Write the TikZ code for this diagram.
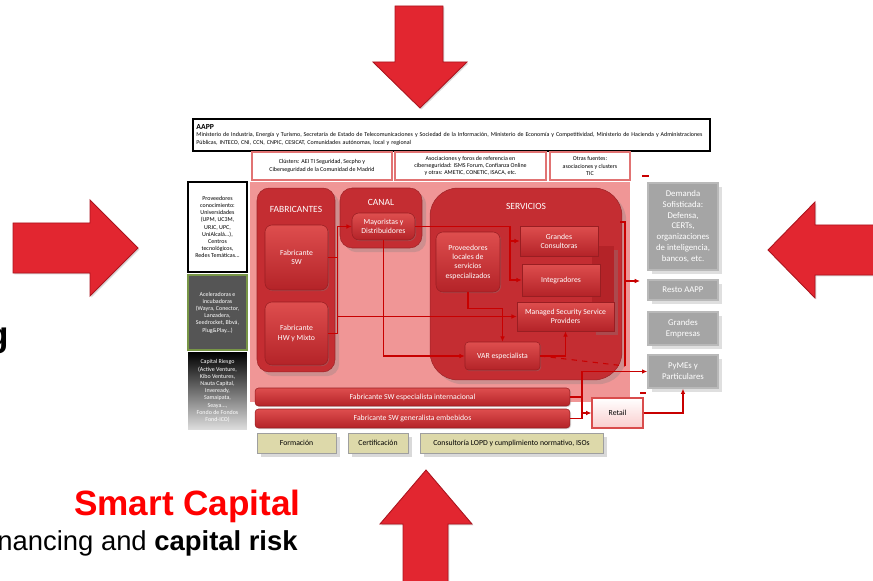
\documentclass[tikz,border=0pt]{standalone}
\usepackage{fontspec}
\setmainfont{Carlito}
\newfontfamily\arialfont{Liberation Sans}
\usetikzlibrary{arrows.meta, positioning, shadows}

\definecolor{arrowred}{RGB}{226,38,48}
\definecolor{arrowdark}{RGB}{170,20,30}
\definecolor{pinkarea}{RGB}{240,150,150}
\definecolor{groupred}{RGB}{196,45,50}
\definecolor{boxtop}{RGB}{222,78,78}
\definecolor{boxbot}{RGB}{180,35,40}
\definecolor{linered}{RGB}{200,0,0}
\definecolor{grayfill}{RGB}{165,165,165}
\definecolor{tanfill}{RGB}{221,217,170}
\definecolor{smartred}{RGB}{255,0,0}
\definecolor{accgray}{RGB}{85,85,85}
\definecolor{accgreen}{RGB}{120,150,70}
\definecolor{retailpink}{RGB}{250,205,205}

\newcommand{\dgtiny}{\fontsize{3.4}{4.1}\selectfont}
\newcommand{\dgsmall}{\fontsize{4.4}{5.3}\selectfont}
\newcommand{\dgmid}{\fontsize{5}{6.2}\selectfont}
\newcommand{\dgtitle}{\fontsize{5.4}{6.5}\selectfont}

\begin{document}
\begin{tikzpicture}[x=0.02cm, y=-0.02cm, >={Latex[length=3pt,width=2.6pt]},
    bigarrow/.style={fill=arrowred, draw=arrowdark, line width=0.5pt, drop shadow={opacity=0.3, shadow xshift=0.8pt, shadow yshift=-0.8pt}},
    zonefill/.style={fill=pinkarea, inner sep=0pt},
    aappbox/.style={draw=black, line width=1pt, fill=white, font=\dgtiny, align=left, inner sep=2pt},
    topbox/.style={draw=linered!55, line width=0.8pt, fill=white, font=\dgtiny, align=center, inner sep=1pt},
    gblock/.style={rounded corners=7pt, fill=groupred, draw=groupred!80!black, line width=0.3pt, drop shadow={opacity=0.3}},
    grptitle/.style={font=\dgtitle, text=white, inner sep=0pt},
    inbox/.style={rounded corners=4pt, top color=boxtop, bottom color=boxbot, draw=boxbot!85!black, line width=0.3pt, text=white, font=\dgsmall, align=center, inner sep=1pt, drop shadow={opacity=0.35, shadow xshift=0.6pt, shadow yshift=-0.6pt}},
    sqbox/.style={inbox, rounded corners=0pt},
    hbar/.style={inbox, rounded corners=2pt},
    leftbox/.style={font=\dgtiny, align=center, inner sep=1pt},
    graybox/.style={fill=grayfill, draw=gray!55, line width=0.8pt, text=white, font=\dgmid, align=center, inner sep=1pt, drop shadow={opacity=0.25}},
    tanbox/.style={fill=tanfill, draw=gray!75, line width=0.4pt, font=\dgsmall, inner sep=1pt, drop shadow={opacity=0.3}},
    link/.style={->, draw=linered, line width=0.6pt},
    wire/.style={draw=linered, line width=0.6pt},
]
\useasboundingbox (0,0) rectangle (873,581);
\clip (0,0) rectangle (873,581);
% big arrows round the diagram
\path[bigarrow] (395,6) -- (443,6) -- (443,62) -- (467,62) -- (420,108) -- (373,62) -- (395,62) -- cycle;
\path[bigarrow] (13,223) -- (90,223) -- (90,200) -- (138,248) -- (90,296) -- (90,273) -- (13,273) -- cycle;
\path[bigarrow] (885,225) -- (815,225) -- (815,202) -- (768,250) -- (815,298) -- (815,275) -- (885,275) -- cycle;
\path[bigarrow] (403,590) -- (403,524) -- (380,524) -- (426,470) -- (472,524) -- (448,524) -- (448,590) -- cycle;
% titles
\node[anchor=base east, inner sep=0pt, font=\arialfont\bfseries\fontsize{20}{24}\selectfont] (gword) at (9,346) {g};
\node[anchor=base east, inner sep=0pt, text=smartred, font=\arialfont\bfseries\fontsize{20}{24}\selectfont] (smart) at (301,515) {Smart Capital};
\node[anchor=base east, inner sep=0pt, font=\arialfont\fontsize{15.6}{18}\selectfont] (finance) at (298,550) {nancing and \textbf{capital risk}};
% AAPP and top row
\node[aappbox, anchor=north west, text width=10.2cm, minimum height=0.64cm] (aapp) at (192,118) {{\dgsmall\bfseries AAPP}\\ Ministerio de Industria, Energía y Turismo, Secretaría de Estado de Telecomunicaciones y Sociedad de la Información, Ministerio de Economía y Competitividad, Ministerio de Hacienda y Administraciones Públicas, INTECO, CNI, CCN, CNPIC, CESICAT, Comunidades autónomas, local y regional};
\node[topbox, minimum width=2.8cm, minimum height=0.56cm] (clus) at (322,166) {Clústers: AEI TI Seguridad, Secpho y\\Ciberseguridad de la Comunidad de Madrid};
\node[topbox, minimum width=3.02cm, minimum height=0.56cm] (asoc) at (470.5,166) {Asociaciones y foros de referencia en\\ciberseguridad: ISMS Forum, Confianza Online\\y otras: AMETIC, CONETIC, ISACA, etc.};
\node[topbox, minimum width=1.6cm, minimum height=0.56cm] (otras) at (590,166) {Otras fuentes:\\asociaciones y clusters\\TIC};
% left column
\node[leftbox, draw=black, line width=1.2pt, fill=white, minimum width=1.18cm, minimum height=1.8cm] (conoc) at (217.5,227) {Proveedores\\conocimiento:\\Universidades\\(UPM, UC3M,\\URJC, UPC,\\UniAlcalá...),\\Centros\\tecnológicos,\\Redes Temáticas...};
\node[leftbox, fill=accgray, draw=accgreen, line width=1pt, text=white, minimum width=1.18cm, minimum height=1.5cm] (acel) at (217.5,312.5) {Aceleradoras e\\incubadoras\\(Wayra, Conector,\\Lanzadera,\\Seedrocket, Bbvá,\\Plug\&Play...)};
\node[leftbox, top color=black, bottom color=gray!25, text=white, minimum width=1.18cm, minimum height=1.56cm] (riesgo) at (217.5,391) {Capital Riesgo\\(Active Venture,\\Kibo Ventures,\\Nauta Capital,\\Inveready,\\Samaipata,\\Seaya...,\\Fondo de Fondos\\Fond-ICO)};
% central zone
\node[zonefill, minimum width=7.6cm, minimum height=4.4cm] (zone) at (440,292) {};
\node[gblock, minimum width=1.56cm, minimum height=3.68cm] (fab) at (296,280) {};
\node[grptitle, below=0.36cm of fab.north] (fabt) {FABRICANTES};
\node[inbox, minimum width=1.26cm, minimum height=1.3cm] (fabsw) at (296.5,257.5) {Fabricante\\SW};
\node[inbox, minimum width=1.26cm, minimum height=1.26cm] (fabhw) at (296.5,333.5) {Fabricante\\HW y Mixto};
\node[gblock, minimum width=1.64cm, minimum height=1.2cm] (canal) at (381,218) {};
\node[grptitle, below=0.22cm of canal.north] (canalt) {CANAL};
\node[inbox, minimum width=1.26cm, minimum height=0.54cm] (mayor) at (383.5,226.5) {Mayoristas y\\Distribuidores};
\node[gblock, rounded corners=16pt, minimum width=3.84cm, minimum height=3.84cm] (serv) at (526,284) {};
\node[grptitle, below=0.3cm of serv.north] (servt) {SERVICIOS};
\node[inbox, minimum width=1.28cm, minimum height=1.2cm] (provloc) at (468,262) {Proveedores\\locales de\\servicios\\especializados};
\fill[boxbot, drop shadow={opacity=0.35}] (592,246) rectangle (614,331);
\node[sqbox, minimum width=1.56cm, minimum height=0.6cm] (grandcons) at (559,241) {Grandes\\Consultoras};
\node[sqbox, minimum width=1.56cm, minimum height=0.64cm] (integ) at (561,280) {Integradores};
\node[sqbox, minimum width=1.94cm, minimum height=0.58cm] (mssp) at (565.5,316.5) {Managed Security Service\\Providers};
\node[inbox, rounded corners=2pt, minimum width=1.5cm, minimum height=0.56cm] (var) at (502.5,356) {VAR especialista};
% bottom bars
\node[hbar, minimum width=6.3cm, minimum height=0.36cm] (barint) at (412.5,397) {Fabricante SW especialista internacional};
\node[hbar, minimum width=6.3cm, minimum height=0.38cm] (bargen) at (412.5,418.5) {Fabricante SW generalista embebidos};
\node[draw=linered!70, top color=white, bottom color=retailpink, line width=0.6pt, font=\dgsmall, minimum width=1.02cm, minimum height=0.6cm] (retail) at (617.5,413) {Retail};
\node[tanbox, minimum width=1.58cm, minimum height=0.4cm] (form) at (296.5,443) {Formación};
\node[tanbox, minimum width=1.2cm, minimum height=0.4cm] (cert) at (378,443) {Certificación};
\node[tanbox, minimum width=3.66cm, minimum height=0.4cm] (consul) at (511.5,443) {Consultoría LOPD y cumplimiento normativo, ISOs};
% demand side
\node[graybox, minimum width=1.4cm, minimum height=1.74cm] (demanda) at (683,226.5) {Demanda\\Sofisticada:\\Defensa,\\CERTs,\\organizaciones\\de inteligencia,\\bancos, etc.};
\node[graybox, minimum width=1.4cm, minimum height=0.4cm] (resto) at (683,290) {Resto AAPP};
\node[graybox, minimum width=1.4cm, minimum height=0.66cm] (grandemp) at (683,328.5) {Grandes\\Empresas};
\node[graybox, minimum width=1.4cm, minimum height=0.66cm] (pymes) at (683,371.5) {PyMEs y\\Particulares};
% connectors
\coordinate (fj) at (337,316.5);
\coordinate (mj) at (510,226.5);
\coordinate (bj) at (582,0);
\coordinate (stop) at (620,222);
\coordinate (sres) at (625,281);
\coordinate (sbot) at (625,366);
\draw[wire] (fabsw.east) -- ++(9,0);
\draw[link] (fabhw.east) -- ++(9,0) |- (mayor.west);
\draw[link] (fj) -- (mssp.west);
\draw[link] (mayor.east) -- (mj) |- (integ.west);
\draw[link] (mj |- grandcons.west) -- (grandcons.west);
\draw[link] (mayor.south) |- (var.west);
\draw[link] (provloc.south) -- ++(0,16) -| (var.north);
\draw[link] (var.east) -| (mssp.south);
\draw[wire, dashed] (var.east) -- (sbot);
\draw[wire] (stop) -- ++(5,0) -- (sbot);
\draw[link] (sres) -- ++(15,0);
\draw[wire] (barint.east) -- (barint.east -| bj);
\draw[link] (bargen.east) -| (bj |- pymes.west) -- (pymes.west);
\draw[link] (bj |- retail.west) -- (retail.west);
\draw[link] (retail.east) -| (pymes.south);
\coordinate (tick1) at (642,176);
\coordinate (tick2) at (640,393);
\draw[wire] (tick1) -- ++(7,0);
\draw[wire] (tick2) -- ++(6,0);
\end{tikzpicture}
\end{document}
